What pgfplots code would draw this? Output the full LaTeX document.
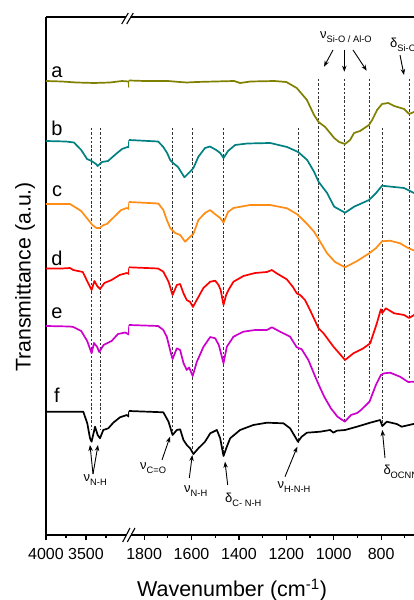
\documentclass[border=0pt]{standalone}
\usepackage{pgfplots}
\pgfplotsset{compat=1.18}
\usepackage{pgfplotstable}
\usepackage{fontspec}
\setmainfont{Liberation Sans}
\usetikzlibrary{arrows.meta}

\definecolor{colA}{RGB}{128,128,0}
\definecolor{colB}{RGB}{0,128,128}
\definecolor{colC}{RGB}{255,140,20}
\definecolor{colD}{RGB}{255,0,0}
\definecolor{colE}{RGB}{204,0,204}
\definecolor{colF}{RGB}{0,0,0}

% ---------- left segment (4000-2960 cm-1) ----------
\pgfplotstableread{
w T
4000 454
3800 453.5
3620 452.5
3400 452
3200 452.5
3050 454
2966 453.5
2962 448
2961 454.5
}\aL
\pgfplotstableread{
w T
4000 394
3750 393.5
3650 392.5
3560 385
3487 376
3430 374
3375 371
3355 369
3300 373
3225 374
3140 380
3050 386
2980 388
2962 388
2961 395
}\bL
\pgfplotstableread{
w T
4000 331
3700 331
3560 324
3480 316
3420 310
3370 307
3330 307
3280 310
3240 311
3150 318
3060 325
2990 327
2962 326
2961 333
}\cL
\pgfplotstableread{
w T
4000 266.5
3800 266.5
3700 267
3660 265
3540 263
3480 253
3430 245
3395 254
3360 249
3325 246
3270 252
3180 255
3080 260
2990 262
2962 261
2961 267.7
}\dL
\pgfplotstableread{
w T
4000 209
3700 208.5
3660 208
3560 204
3485 194
3430 181.7
3400 192
3360 188
3335 183
3280 190
3180 194
3100 201
3010 202.5
2962 200.5
2961 210
}\eL
\pgfplotstableread{
w T
4000 123.3
3700 123.3
3534 123.3
3484 111.7
3450 96.7
3430 93.3
3387 108.3
3354 100
3325 96.7
3284 105
3221 106.7
3159 112.3
3075 117.7
2990 120
2962 118.3
2961 124
}\fL

% ---------- right segment (1863-600 cm-1) ----------
\pgfplotstableread{
w T
1863 454.5
1800 454
1700 454
1650 453
1620 452.5
1580 453
1500 453.5
1420 454
1395 452
1350 453.5
1250 454
1200 453
1156 447
1113 435
1083 420
1064 413
1036 408
998 397
977 393
952 391
931 395
914 402
889 404
851 410
838 415
817 425
796 431
770 432
745 429
703 426
682 421
661 423
640 424
600 425
}\aR
\pgfplotstableread{
w T
1863 395
1741 393.5
1720 388.3
1703 382
1690 375
1678 372
1657 368
1630 357.7
1606 363.3
1592 367
1571 378.3
1543 387
1522 388.5
1496 385
1479 382
1465 377
1446 384
1416 390
1365 391.5
1268 392
1197 388
1150 383
1112 375
1083 363.3
1064 353.3
1028 342
998 328.3
952 322.3
914 328.3
851 335
821 342
796 349.3
745 348
703 347
661 342
640 341
600 340
}\bR
\pgfplotstableread{
w T
1863 333
1740 331.5
1719 325
1704 315
1690 307
1669 302
1648 300
1627 293.3
1606 298.3
1592 301
1571 315
1543 322
1522 325
1496 320
1479 317
1465 312.3
1446 323
1423 327
1353 330
1268 330
1197 326.7
1156 321
1142 318
1112 311
1083 303.3
1064 296
1028 281.7
994 273
952 267.7
901 274
850 281.7
821 287
796 293.7
762 294.3
720 291.7
686 287
661 284.5
640 284
600 283
}\cR
\pgfplotstableread{
w T
1863 267.7
1741 266.5
1719 263.3
1697 253.3
1680 240
1662 250
1648 251
1634 241.7
1620 235
1606 233
1594 228
1578 235
1550 247
1521 253.3
1500 254.3
1486 250
1477 245
1465 230
1454 240
1444 245
1423 253.3
1381 259
1332 262
1282 263
1261 265
1243 262
1198 255.7
1172 248
1156 241.7
1142 240
1121 235
1100 225
1064 206.7
1043 201.7
1001 188.3
952 175
917 181.7
875 186.7
846 191.7
818 211.7
801 225.7
795 222
780 226.7
745 221.7
703 220
682 217
661 220
640 219
600 217
}\dR
\pgfplotstableread{
w T
1863 210
1741 209
1719 205
1704 198
1687 181.7
1680 176
1662 186.7
1648 185
1634 172
1620 165
1610 167.5
1595 159
1578 173
1550 188
1521 198
1500 196.7
1485 190
1477 183
1465 171.7
1451 188.3
1423 198.3
1381 203.3
1332 205
1282 205
1261 207.7
1226 203.3
1184 198.3
1156 187.7
1135 185.7
1107 175
1078 158.3
1057 147
1040 138.3
1012 126.7
984 118.3
953 113.3
927 120
901 122
885 125
849 133.3
822 150
801 160
787 161.7
762 162.3
720 158.3
686 153
661 153.3
640 154
600 153
}\eR
\pgfplotstableread{
w T
1863 124
1719 122.7
1697 113.3
1680 100
1662 105
1648 105.7
1634 95
1620 90
1606 86.7
1592 81
1571 86.7
1543 93.3
1521 101.7
1493 105
1479 96.7
1465 79
1451 88.3
1437 96.7
1395 105
1339 110
1282 112.3
1212 111.7
1184 106.7
1163 98.3
1151 93.3
1135 98.3
1113 102.3
1057 103.3
1015 105
1001 102.3
987 104.3
952 105
902 108.3
846 112.3
804 115
795 109
776 113.3
734 111
713 108.3
664 111
640 112
600 112
}\fR

\tikzset{
  refl/.style={line width=0.8pt, black!80, dash pattern=on 2.5pt off 1.8pt},
}

\begin{document}
\begin{tikzpicture}
\pgfplotsset{
  brk/.style={scale only axis, height=518pt, ymin=0, ymax=518, x dir=reverse,
    anchor=south west,
    axis x line*=box, xtick pos=left, xtick align=outside, ytick=\empty,
    axis line style={line width=1.6pt, black},
    major tick length=5pt, minor tick length=3pt,
    tick style={black, line width=1.2pt},
    /pgf/number format/assume math mode=true,
    /pgf/number format/1000 sep={},
    xticklabel style={font=\fontsize{16}{16}\selectfont, yshift=-5pt}},
  spec/.style={line width=1.7pt, line join=round, no markers},
}
\begin{axis}[brk, at={(46pt,65pt)}, width=83.2pt, xmin=2960, xmax=4000,
  axis y line*=left, xtick={3500,4000}, minor xtick={3250,3750}]
\draw[refl] (axis cs:3430,407) -- (axis cs:3430,105);
\draw[refl] (axis cs:3325,407) -- (axis cs:3325,105);
\addplot[spec, colA] table[x=w,y=T]{\aL};
\addplot[spec, colB] table[x=w,y=T]{\bL};
\addplot[spec, colC] table[x=w,y=T]{\cL};
\addplot[spec, colD] table[x=w,y=T]{\dL};
\addplot[spec, colE] table[x=w,y=T]{\eL};
\addplot[spec, colF] table[x=w,y=T]{\fL};
\end{axis}
\begin{axis}[brk, at={(129.2pt,65pt)}, width=299.3pt, xmin=600, xmax=1863,
  axis y line=none, xtick={800,1000,1200,1400,1600,1800},
  minor xtick={700,900,1100,1300,1500,1700}]
\draw[refl] (axis cs:1682,407) -- (axis cs:1682,102);
\draw[refl] (axis cs:1595,407) -- (axis cs:1595,85);
\draw[refl] (axis cs:1464,407) -- (axis cs:1464,80);
\draw[refl] (axis cs:1150,407) -- (axis cs:1150,92);
\draw[refl] (axis cs:1063,456) -- (axis cs:1063,155);
\draw[refl] (axis cs:953,456) -- (axis cs:953,113);
\draw[refl] (axis cs:850,456) -- (axis cs:850,142);
\draw[refl] (axis cs:795,407) -- (axis cs:795,108);
\draw[refl] (axis cs:682,456) -- (axis cs:682,155);
\addplot[spec, colA] table[x=w,y=T]{\aR};
\addplot[spec, colB] table[x=w,y=T]{\bR};
\addplot[spec, colC] table[x=w,y=T]{\cR};
\addplot[spec, colD] table[x=w,y=T]{\dR};
\addplot[spec, colE] table[x=w,y=T]{\eR};
\addplot[spec, colF] table[x=w,y=T]{\fR};
\end{axis}

% axis break marks
\fill[white] (122.5pt,577pt) -- (128pt,587pt) -- (132.5pt,587pt) -- (127pt,577pt) -- cycle;
\draw[line width=1.1pt] (121.7pt,576pt) -- (128.3pt,587pt);
\draw[line width=1.1pt] (126.7pt,576pt) -- (133.3pt,587pt);
\fill[white] (123.5pt,59pt) -- (129.5pt,71pt) -- (134pt,71pt) -- (128pt,59pt) -- cycle;
\draw[line width=1.1pt] (122.7pt,58pt) -- (130pt,72pt);
\draw[line width=1.1pt] (127.3pt,58pt) -- (135pt,72pt);

% sample labels
\begin{scope}[every node/.style={font=\fontsize{20}{20}\selectfont, inner sep=0pt}]
\node at (57pt,528pt) {a};
\node at (57pt,472pt) {b};
\node at (57pt,409pt) {c};
\node at (57pt,342pt) {d};
\node at (57pt,287pt) {e};
\node at (57pt,205pt) {f};
\end{scope}

% axis titles
\node[font=\fontsize{21.5}{22}\selectfont, inner sep=0pt] at (232pt,10pt) {Wavenumber (cm\textsuperscript{-1})};
\node[font=\fontsize{21.3}{22}\selectfont, inner sep=0pt, rotate=90] at (25pt,323pt) {Transmittance (a.u.)};

% band annotations
\newcommand{\band}[2]{{\fontsize{13}{13}\selectfont #1}\raisebox{-4pt}{\fontsize{9.3}{10}\selectfont #2}}
\begin{scope}[every node/.style={inner sep=0pt, anchor=base west}]
\node at (320pt,561.7pt) {\band{ν}{Si-O / Al-O}};
\node at (390pt,552.3pt) {\band{δ}{Si-O}};
\node at (83.5pt,118pt) {\band{ν}{N-H}};
\node at (140pt,130pt) {\band{ν}{C=O}};
\node at (184pt,107.3pt) {\band{ν}{N-H}};
\node at (225pt,97.3pt) {\band{δ}{C- N-H}};
\node at (277.3pt,111.7pt) {\band{ν}{H-N-H}};
\node at (383.3pt,125pt) {\band{δ}{OCNN}};
\end{scope}
\begin{scope}[line width=0.9pt, -{Stealth[length=6pt,width=4.5pt]}]
\draw (333pt,550pt) -- (324pt,533.3pt);
\draw (344.3pt,550pt) -- (344.3pt,528.3pt);
\draw (353pt,550pt) -- (366.7pt,529.3pt);
\draw (400pt,545pt) -- (404pt,525pt);
\draw (93pt,126pt) -- (90pt,155pt);
\draw (93pt,126pt) -- (98pt,155pt);
\draw (162pt,140pt) -- (170pt,163.3pt);
\draw (189.3pt,122pt) -- (192.3pt,145pt);
\draw (227.7pt,115pt) -- (225pt,138.3pt);
\draw (285pt,123.3pt) -- (297.3pt,153.3pt);
\draw (385pt,142pt) -- (382.3pt,170pt);
\end{scope}

\pgfresetboundingbox
\path[use as bounding box] (0pt,0pt) rectangle (414pt,600pt);
\end{tikzpicture}
\end{document}
